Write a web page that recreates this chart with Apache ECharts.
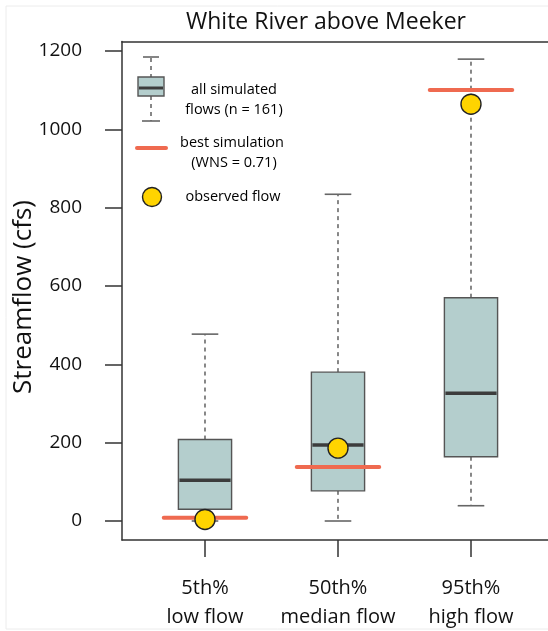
<!DOCTYPE html>
<html>
<head>
<meta charset="utf-8">
<script src="https://cdn.jsdelivr.net/npm/echarts@6/dist/echarts.min.js"></script>
<style>
  html, body { margin: 0; padding: 0; background: #fff; }
  #chart { width: 548px; height: 631px; }
</style>
</head>
<body>
<div id="chart"></div>
<script>
// Flow statistics for the White River above Meeker
const categories = ['5th%\nlow flow', '50th%\nmedian flow', '95th%\nhigh flow'];
const positions = [1, 2, 3];
const whiskerLow = [0, 0, 39];
const quartile1 = [30, 77, 164];
const medians = [104, 194, 326];
const quartile3 = [208, 380, 570];
const whiskerHigh = [477, 834, 1179];
const bestSimulation = [8, 138, 1100];
const observedFlow = [4, 186, 1064];
const yTicks = [0, 200, 400, 600, 800, 1000, 1200];

const FONT = '"Open Sans", "DejaVu Sans", sans-serif';
const BOX_FILL = '#b4cecd';
const BOX_EDGE = '#555555';
const RED = '#ef6a50';
const GOLD = '#ffd400';

const boxData = positions.map((p, i) => [p, whiskerLow[i], quartile1[i], medians[i], quartile3[i], whiskerHigh[i]]);
const simData = positions.map((p, i) => [p, bestSimulation[i]]);
const obsData = positions.map((p, i) => [p, observedFlow[i]]);

function renderBox(params, api) {
  const x = api.value(0);
  const lo = api.coord([x, api.value(1)]);
  const q1 = api.coord([x, api.value(2)]);
  const md = api.coord([x, api.value(3)]);
  const q3 = api.coord([x, api.value(4)]);
  const hi = api.coord([x, api.value(5)]);
  const halfBox = api.size([0.2, 0])[0];
  const halfCap = api.size([0.1, 0])[0];
  const cx = lo[0];
  const dash = { stroke: BOX_EDGE, lineWidth: 1.4, lineDash: [4, 4] };
  const cap = { stroke: '#666', lineWidth: 1.6 };
  return {
    type: 'group',
    children: [
      { type: 'line', shape: { x1: cx, y1: q3[1], x2: cx, y2: hi[1] }, style: dash },
      { type: 'line', shape: { x1: cx, y1: q1[1], x2: cx, y2: lo[1] }, style: dash },
      { type: 'line', shape: { x1: cx - halfCap, y1: hi[1], x2: cx + halfCap, y2: hi[1] }, style: cap },
      { type: 'line', shape: { x1: cx - halfCap, y1: lo[1], x2: cx + halfCap, y2: lo[1] }, style: cap },
      { type: 'rect', shape: { x: cx - halfBox, y: q3[1], width: halfBox * 2, height: q1[1] - q3[1] },
        style: { fill: BOX_FILL, stroke: BOX_EDGE, lineWidth: 1.4 } },
      { type: 'line', shape: { x1: cx - halfBox + 1, y1: md[1], x2: cx + halfBox - 1, y2: md[1] },
        style: { stroke: '#3c3c3c', lineWidth: 3.5 } }
    ]
  };
}

function renderSim(params, api) {
  const x = api.value(0);
  const c = api.coord([x, api.value(1)]);
  const half = api.size([0.31, 0])[0];
  return {
    type: 'line',
    shape: { x1: c[0] - half, y1: c[1], x2: c[0] + half, y2: c[1] },
    style: { stroke: RED, lineWidth: 4, lineCap: 'round' }
  };
}

const chart = echarts.init(document.getElementById('chart'), null, { renderer: 'canvas' });

const legendText = (x, y, text) => ({
  type: 'text', x: x, y: y,
  style: { text: text, font: '14.5px ' + FONT, fill: '#000', align: 'center', verticalAlign: 'middle' }
});

chart.setOption({
  animation: false,
  backgroundColor: '#fff',
  title: {
    text: 'White River above Meeker',
    left: 321, top: 6, textAlign: 'center',
    textStyle: { fontFamily: FONT, fontSize: 23, fontWeight: 'normal', color: '#111' }
  },
  grid: { left: 122, right: 0, top: 41.5, bottom: 91, outerBoundsMode: 'none', containLabel: false },
  xAxis: [{
    type: 'value', min: 0.376, max: 3.579, position: 'bottom',
    splitLine: { show: false },
    axisLine: { show: true, onZero: false, lineStyle: { color: '#333', width: 1.5 } },
    axisTick: { show: true, length: 17, customValues: positions, lineStyle: { color: '#333', width: 1.5 } },
    axisLabel: {
      customValues: positions, margin: 34,
      formatter: v => categories[positions.indexOf(Math.round(v))] || '',
      fontFamily: FONT, fontSize: 20, lineHeight: 29, color: '#111', align: 'center'
    }
  }, {
    type: 'value', min: 0.376, max: 3.579, position: 'top',
    splitLine: { show: false },
    axisLine: { show: true, onZero: false, lineStyle: { color: '#333', width: 1.5 } },
    axisTick: { show: false }, axisLabel: { show: false }
  }],
  yAxis: {
    type: 'value', min: -48.5, max: 1224,
    splitLine: { show: false },
    axisLine: { show: true, onZero: false, lineStyle: { color: '#333', width: 1.5 } },
    axisTick: { show: true, length: 17, customValues: yTicks, lineStyle: { color: '#333', width: 1.5 } },
    axisLabel: { customValues: yTicks, margin: 40, formatter: v => String(v),
      fontFamily: FONT, fontSize: 19, color: '#111' }
  },
  series: [{
    type: 'custom', name: 'all simulated flows', xAxisIndex: 0,
    renderItem: renderBox, data: boxData, z: 2,
    encode: { x: 0, y: [1, 2, 3, 4, 5] }
  }, {
    type: 'custom', name: 'best simulation', xAxisIndex: 0,
    renderItem: renderSim, data: simData, z: 3,
    encode: { x: 0, y: 1 }
  }, {
    type: 'scatter', name: 'observed flow', xAxisIndex: 0,
    data: obsData, symbol: 'circle', symbolSize: 20, z: 4,
    itemStyle: { color: GOLD, borderColor: '#222', borderWidth: 1.4, opacity: 1 }
  }],
  graphic: [
    // faint frame round the figure
    { type: 'rect', shape: { x: 6, y: 6, width: 560, height: 623 },
      style: { fill: null, stroke: '#ececec', lineWidth: 1 }, z: -1 },
    // y-axis title
    { type: 'text', x: 24, y: 297, rotation: Math.PI / 2,
      style: { text: 'Streamflow (cfs)', font: '26px ' + FONT, fill: '#111', align: 'center', verticalAlign: 'middle' } },
    // legend: box symbol
    { type: 'line', shape: { x1: 151, y1: 58, x2: 151, y2: 77 }, style: { stroke: BOX_EDGE, lineWidth: 1.4, lineDash: [4, 4] } },
    { type: 'line', shape: { x1: 151, y1: 96, x2: 151, y2: 121 }, style: { stroke: BOX_EDGE, lineWidth: 1.4, lineDash: [4, 4] } },
    { type: 'line', shape: { x1: 143, y1: 57, x2: 159, y2: 57 }, style: { stroke: '#666', lineWidth: 1.6 } },
    { type: 'line', shape: { x1: 142, y1: 121, x2: 160, y2: 121 }, style: { stroke: '#666', lineWidth: 1.6 } },
    { type: 'rect', shape: { x: 138, y: 77, width: 26, height: 19 }, style: { fill: BOX_FILL, stroke: BOX_EDGE, lineWidth: 1.4 } },
    { type: 'line', shape: { x1: 139, y1: 88, x2: 163, y2: 88 }, style: { stroke: '#3c3c3c', lineWidth: 3 } },
    legendText(234, 90, 'all simulated'),
    legendText(234, 110, 'flows (n = 161)'),
    // legend: best simulation
    { type: 'line', shape: { x1: 137, y1: 148, x2: 166, y2: 148 }, style: { stroke: RED, lineWidth: 4, lineCap: 'round' } },
    legendText(232, 143, 'best simulation'),
    legendText(234, 163, '(WNS = 0.71)'),
    // legend: observed flow
    { type: 'circle', shape: { cx: 152, cy: 197, r: 9.5 }, style: { fill: GOLD, stroke: '#222', lineWidth: 1.4 } },
    legendText(233, 197, 'observed flow')
  ]
});
</script>
</body>
</html>
